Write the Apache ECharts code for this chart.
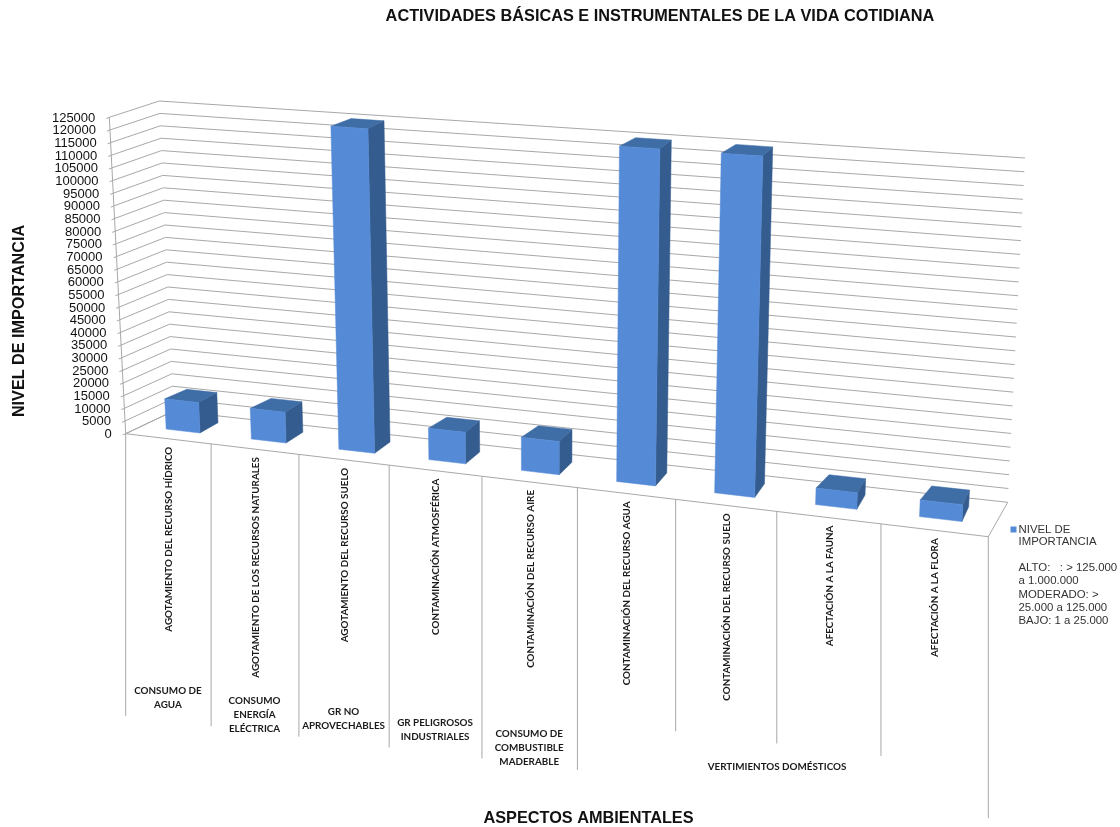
<!DOCTYPE html>
<html>
<head>
<meta charset="utf-8">
<style>html,body{margin:0;padding:0;background:#fff}#chart{width:1120px;height:827px}</style>
<script src="https://cdn.jsdelivr.net/npm/echarts@6/dist/echarts.min.js"></script>
</head>
<body>
<div id="chart"></div>
<script>
// Impact rating per environmental aspect
const categories = [
  'AGOTAMIENTO DEL RECURSO HÍDRICO',
  'AGOTAMIENTO DE LOS RECURSOS NATURALES',
  'AGOTAMIENTO DEL RECURSO SUELO',
  'CONTAMINACIÓN ATMOSFÉRICA',
  'CONTAMINACIÓN DEL RECURSO AIRE',
  'CONTAMINACIÓN DEL RECURSO AGUA',
  'CONTAMINACIÓN DEL RECURSO SUELO',
  'AFECTACIÓN A LA FAUNA',
  'AFECTACIÓN A LA FLORA'
];
const importance = [12000, 12000, 125000, 12000, 12500, 125000, 125000, 6000, 6000];
const valueTicks = [];
for (let v = 0; v <= 125000; v += 5000) valueTicks.push(v);

// Second level of the category axis: label lines and the band of categories each one spans
const groupLabels = [
  { lines: ['CONSUMO DE', 'AGUA'], from: 0, to: 0 },
  { lines: ['CONSUMO', 'ENERGÍA', 'ELÉCTRICA'], from: 1, to: 1 },
  { lines: ['GR NO', 'APROVECHABLES'], from: 2, to: 2 },
  { lines: ['GR PELIGROSOS', 'INDUSTRIALES'], from: 3, to: 3 },
  { lines: ['CONSUMO DE', 'COMBUSTIBLE', 'MADERABLE'], from: 4, to: 4 },
  { lines: ['VERTIMIENTOS DOMÉSTICOS'], from: 5, to: 8 }
];
const groupBreaks = [0, 1, 2, 3, 4, 5, 9];
const legendNotes = ['IMPORTANCIA', '', 'ALTO:   : > 125.000', 'a 1.000.000', 'MODERADO: >', '25.000 a 125.000', 'BAJO: 1 a 25.000'];

const grid = { left: 125.7, top: 117.3, width: 862, height: 316.4 };

// Corners of the perspective box the flat plot area is projected onto
const box = {
  fl0: [125.7, 433.7], fl1: [109.3, 117.3], fr0: [988.3, 536.7], fr1: [1005.9, 181.0],
  bl0: [173.5, 411.0], bl1: [159.3, 101.0], br0: [1007.7, 502.3], br1: [1025.0, 158.0]
};
const lerp = (a, b, t) => [a[0] + (b[0] - a[0]) * t, a[1] + (b[1] - a[1]) * t];
const keystone = 1.137;
const warp = t => t / (t + (1 - t) * keystone);

// Plot-area pixel plus a depth in 0..1 gives the page position
function project(pt, d) {
  const s = warp((pt[0] - grid.left) / grid.width);
  const v = (grid.top + grid.height - pt[1]) / grid.height;
  const front = lerp(lerp(box.fl0, box.fr0, s), lerp(box.fl1, box.fr1, s), v);
  const back = lerp(lerp(box.bl0, box.br0, s), lerp(box.bl1, box.br1, s), v);
  return lerp(front, back, d);
}

const GRID_COLOR = '#a8a8a8';
const AXIS_FONT = 'Liberation Sans';
const CAT_FONT = 'bold 9.85px Lato';
const line = (a, b, color, width) => ({
  type: 'line', silent: true,
  shape: { x1: a[0], y1: a[1], x2: b[0], y2: b[1] },
  style: { stroke: color || GRID_COLOR, lineWidth: width || 1 }
});
const poly = (pts, fill) => ({ type: 'polygon', shape: { points: pts }, style: { fill: fill, stroke: fill, lineWidth: 0.5 } });

function renderTick(params, api) {
  const value = api.value(1);
  const left = api.coord([0, value]);
  left[0] = grid.left;
  const right = [grid.left + grid.width, left[1]];
  const a = project(left, 0), b = project(left, 1), c = project(right, 1);
  return {
    type: 'group',
    children: [
      { type: 'polyline', silent: true, shape: { points: [[a[0] - 3, a[1] + 1.2], a, b, c] }, style: { stroke: GRID_COLOR, lineWidth: 1, fill: null } },
      { type: 'text', silent: true, x: a[0] - 14, y: a[1] + 0.8,
        style: { text: String(value), textAlign: 'right', textVerticalAlign: 'middle', font: '13px "' + AXIS_FONT + '"', fill: '#111' } }
    ]
  };
}

function renderFloor(params, api) {
  const base = api.coord([0, 0])[1];
  const l = [grid.left, base], r = [grid.left + grid.width, base];
  return {
    type: 'group',
    children: [
      line(project(l, 0), project(l, 1)),
      line(project(l, 0), project(r, 0)),
      line(project(r, 0), project(r, 1)),
      line(project(l, 0), project([grid.left, grid.top], 0))
    ]
  };
}

const band = grid.width / categories.length;

function renderCategory(params, api) {
  const i = api.value(0);
  const c = api.coord([i, 0]);
  const p = project(c, 0);
  const edge = project([c[0] - band / 2, c[1]], 0);
  const isGroupBreak = groupBreaks.indexOf(i) >= 0;
  const children = [
    line(edge, [edge[0], edge[1] + (isGroupBreak ? 282.3 : 232)]),
    { type: 'text', silent: true, x: p[0] + 1, y: p[1] + 8, rotation: Math.PI / 2,
      style: { text: categories[i], textAlign: 'right', textVerticalAlign: 'middle', font: CAT_FONT, fill: '#1a1a1a' } }
  ];
  return { type: 'group', children };
}

function renderLastDivider(params, api) {
  const c = api.coord([categories.length - 1, 0]);
  const edge = project([c[0] + band / 2, c[1]], 0);
  return line(edge, [edge[0], edge[1] + 281.5]);
}

function renderGroup(params, api) {
  const g = groupLabels[params.dataIndex];
  const a = api.coord([g.from, 0]), b = api.coord([g.to, 0]);
  const left = project([a[0] - band / 2, a[1]], 0), right = project([b[0] + band / 2, b[1]], 0);
  const wide = g.to > g.from;
  const x = (left[0] + right[0]) / 2 - (wide ? 5.8 : 0.5);
  // The block of lines hangs a fixed distance under the floor edge
  const ref = project([(a[0] + b[0]) / 2, a[1]], 0);
  const y = ref[1] + (wide ? 255 : 252);
  return {
    type: 'group',
    children: g.lines.map((t, k) => ({
      type: 'text', silent: true, x: x, y: y + k * 13.9,
      style: { text: t, textAlign: 'center', textVerticalAlign: 'middle', font: CAT_FONT, fill: '#1a1a1a' }
    }))
  };
}

// Box shape of one column
const BAR_HALF = 0.2, BAR_CENTER = -0.005, DEPTH_FRONT = 0.33, DEPTH_BACK = 0.76, BACK_TAPER = 0.9;
function renderBar(params, api) {
  const i = api.value(0), val = api.value(1);
  const base = api.coord([i, 0]), top = api.coord([i, val]);
  const cx = base[0] + BAR_CENTER * band;
  const at = (off, y, d) => project([cx + off * band, y], d);
  const h = BAR_HALF, hb = BAR_HALF * BACK_TAPER;
  const y0 = base[1], y1 = top[1];
  return {
    type: 'group',
    children: [
      poly([at(h, y1, DEPTH_FRONT), at(hb, y1, DEPTH_BACK), at(hb, y0, DEPTH_BACK), at(h, y0, DEPTH_FRONT)], '#355c8e'),
      poly([at(-h, y1, DEPTH_FRONT), at(-hb, y1, DEPTH_BACK), at(hb, y1, DEPTH_BACK), at(h, y1, DEPTH_FRONT)], '#3f6da6'),
      poly([at(-h, y1, DEPTH_FRONT), at(h, y1, DEPTH_FRONT), at(h, y0, DEPTH_FRONT), at(-h, y0, DEPTH_FRONT)], '#558ad6')
    ]
  };
}

const chart = echarts.init(document.getElementById('chart'), null, { renderer: 'canvas' });
chart.setOption({
  animation: false,
  backgroundColor: '#ffffff',
  title: {
    text: 'ACTIVIDADES BÁSICAS E INSTRUMENTALES DE LA VIDA COTIDIANA',
    left: 655, top: 4, textAlign: 'center',
    textStyle: { fontFamily: AXIS_FONT, fontWeight: 'bold', fontSize: 16.3, color: '#111' }
  },
  legend: {
    left: 1005.5, top: 519, itemWidth: 6, itemHeight: 6, itemGap: 0, icon: 'rect',
    data: ['NIVEL DE IMPORTANCIA'], selectedMode: false,
    formatter: () => 'NIVEL DE',
    textStyle: { fontFamily: AXIS_FONT, fontSize: 11.4, color: '#333', padding: [0, 0, 0, -3] }
  },
  grid: { left: grid.left, top: grid.top, width: grid.width, height: grid.height },
  xAxis: { type: 'category', data: categories, show: false },
  yAxis: { type: 'value', min: 0, max: 125000, interval: 5000, show: false },
  series: [
    { type: 'custom', name: 'ejes', coordinateSystem: 'cartesian2d', silent: true, clip: false, renderItem: renderFloor, data: [[0, 0]], z: 1 },
    { type: 'custom', name: 'rejilla', coordinateSystem: 'cartesian2d', silent: true, clip: false, renderItem: renderTick, data: valueTicks.map(v => [0, v]), z: 2 },
    { type: 'custom', name: 'categorias', coordinateSystem: 'cartesian2d', silent: true, clip: false, renderItem: renderCategory, data: categories.map((c, i) => [i, 0]), z: 3 },
    { type: 'custom', name: 'cierre', coordinateSystem: 'cartesian2d', silent: true, clip: false, renderItem: renderLastDivider, data: [[8, 0]], z: 3 },
    { type: 'custom', name: 'grupos', coordinateSystem: 'cartesian2d', silent: true, clip: false, renderItem: renderGroup, data: groupLabels.map(g => [g.from, 0]), z: 3 },
    { type: 'custom', name: 'NIVEL DE IMPORTANCIA', coordinateSystem: 'cartesian2d', clip: false, renderItem: renderBar,
      itemStyle: { color: '#558ad6' }, data: importance.map((v, i) => [i, v]), z: 4 }
  ],
  graphic: [
    { type: 'text', x: 588.5, y: 819, style: { text: 'ASPECTOS AMBIENTALES', textAlign: 'center', textVerticalAlign: 'middle', font: 'bold 16.3px "' + AXIS_FONT + '"', fill: '#111' } },
    { type: 'text', x: 19.5, y: 321, rotation: Math.PI / 2, style: { text: 'NIVEL DE IMPORTANCIA', textAlign: 'center', textVerticalAlign: 'middle', font: 'bold 16.2px "' + AXIS_FONT + '"', fill: '#111' } }
  ].concat(legendNotes.map((t, k) => ({
    type: 'text', x: 1018.5, y: 541.7 + k * 13.2,
    style: { text: t, textAlign: 'left', textVerticalAlign: 'middle', font: '11.4px "' + AXIS_FONT + '"', fill: '#333' }
  })))
});
</script>
</body>
</html>
